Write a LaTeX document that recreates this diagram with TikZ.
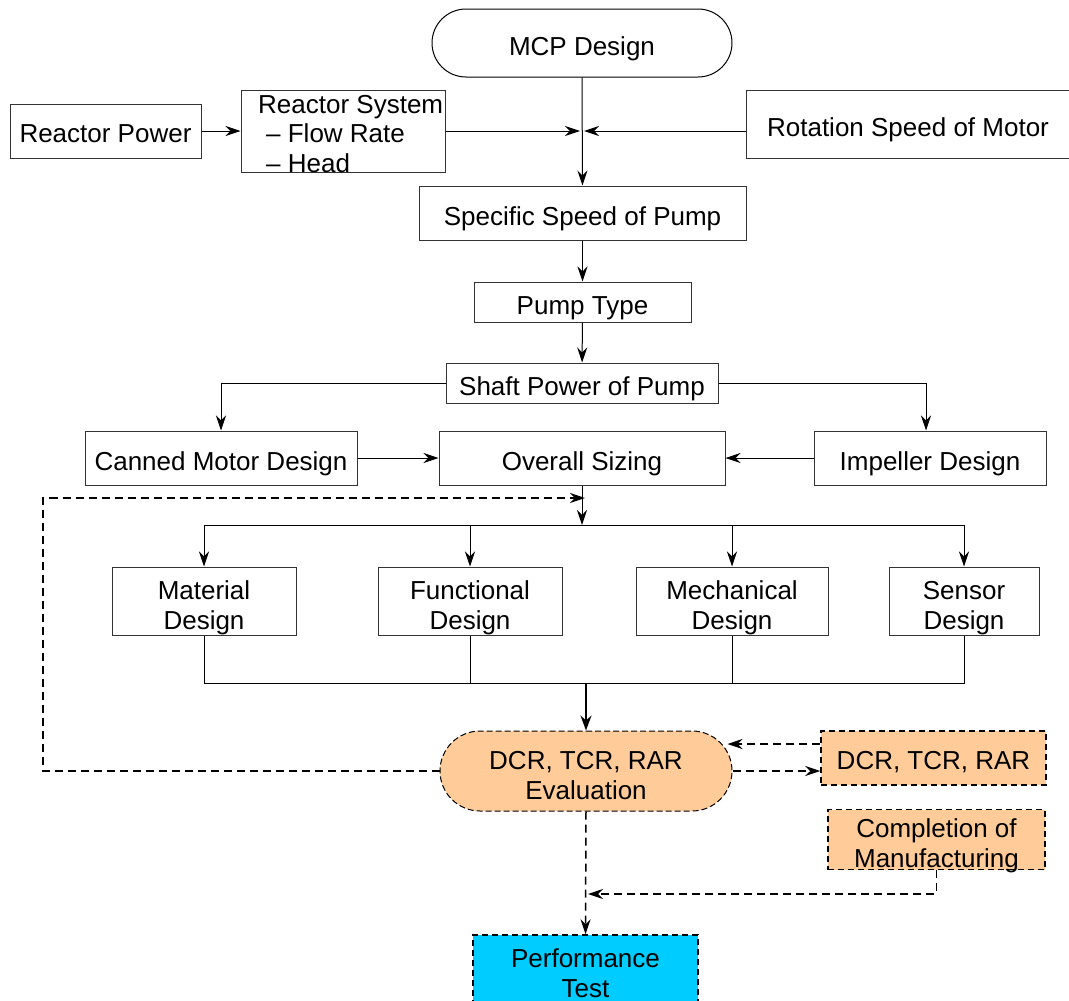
\documentclass[tikz,border=0pt]{standalone}
\usepackage{fontspec}
\setmainfont{Liberation Sans}
\usetikzlibrary{arrows.meta,shapes.misc}
\definecolor{peach}{RGB}{255,204,153}
\definecolor{cyanb}{RGB}{0,204,255}
\newcommand{\fs}{\fontsize{26}{30}\selectfont}
\newcommand{\T}[2][6pt]{\raisebox{-#1}[\height][\depth]{\begin{tabular}{@{}c@{}}#2\end{tabular}}}
\begin{document}
\begin{tikzpicture}[x=1pt,y=-1pt,
  every node/.style={font=\fs, inner sep=0pt, align=center},
  box/.style={draw=black!80, line width=1pt, rectangle},
  dbox/.style={draw=black, line width=1.5pt, dash pattern=on 6pt off 4pt, rectangle, fill=peach},
  stad/.style={draw=black, line width=1pt, rounded rectangle},
  arr/.style={line width=1pt, -{Stealth[length=15pt,width=10pt,inset=5pt]}},
  darr/.style={line width=1.5pt, dash pattern=on 8pt off 5pt, -{Stealth[length=15pt,width=10pt,inset=5pt]}},
  ln/.style={line width=1pt}]
\clip (0,0) rectangle (1069,1001);
\fill[white] (0,0) rectangle (1069,1001);
% nodes
\node[stad, minimum width=300pt, minimum height=68pt] (mcp) at (582,43) {\T{MCP Design}};
\node[box, minimum width=191pt, minimum height=54pt] (rp) at (105.5,131) {\T[5pt]{Reactor Power}};
\node[box, minimum width=204pt, minimum height=82pt] (rs) at (343,131) {};
\node[align=left, anchor=west] (rst) at (258,134) {Reactor System\\[-0.5pt]\hspace{8pt}– Flow Rate\\\hspace{8pt}– Head};
\node[box, minimum width=330pt, minimum height=68pt] (rot) at (911,124) {\T{\hspace*{-1pt}Rotation Speed of Motor\hspace*{5pt}}};
\coordinate (j1) at (582,131);
\node[box, minimum width=327pt, minimum height=54pt] (ss) at (582.5,213) {\T{Specific Speed of Pump}};
\node[box, minimum width=217pt, minimum height=40pt] (pt) at (582.5,302) {\T{Pump Type}};
\node[box, minimum width=272pt, minimum height=40pt] (sp) at (582,383) {\T{Shaft Power of Pump}};
\node[box, minimum width=272pt, minimum height=54pt] (cm) at (221,458) {\T{Canned Motor Design}};
\node[box, minimum width=286pt, minimum height=54pt] (os) at (582,458) {\T{Overall Sizing}};
\node[box, minimum width=232pt, minimum height=54pt] (imp) at (930,458) {\T{Impeller Design}};
\coordinate (b1) at (582,525);
\coordinate (fb) at (582,498);
\coordinate (fbl) at (43,498);
\node[box, minimum width=184pt, minimum height=68pt] (mat) at (204,601) {\T[7pt]{Material\\Design}};
\node[box, minimum width=184pt, minimum height=68pt] (fun) at (470,601) {\T[7pt]{Functional\\Design}};
\node[box, minimum width=192pt, minimum height=68pt] (mec) at (732,601) {\T[7pt]{Mechanical\\Design}};
\node[box, minimum width=150pt, minimum height=68pt] (sen) at (964,601) {\T[7pt]{Sensor\\Design}};
\coordinate (b2) at (586,683);
\node[stad, dash pattern=on 6pt off 3pt, fill=peach, minimum width=292pt, minimum height=80pt] (ev) at (586,771) {\T[7pt]{DCR, TCR, RAR\\Evaluation}};
\node[dbox, minimum width=225pt, minimum height=54pt] (dcr) at (933.5,758) {\T[5pt]{DCR, TCR, RAR}};
\node[dbox, minimum width=217pt, minimum height=53pt] (comp) at (936.5,839.5) {\T[6.5pt]{Completion of\\Manufacturing}};
\coordinate (cj) at (588,894);
\node[dbox, fill=cyanb, minimum width=225pt, minimum height=75pt] (perf) at (585.5,972.5) {\T[3.5pt]{Performance\\Test}};
% connectors
\draw[arr] (rp) -- (rs);
\draw[arr] (rs.east |- j1) -- ([xshift=-2pt]j1);
\draw[arr] (rot.west |- j1) -- ([xshift=2pt]j1);
\draw[arr] (mcp.south) -- (ss.north);
\draw[arr] (ss) -- (pt);
\draw[arr] (pt) -- (sp);
\draw[arr] (sp.west) -| (cm.north);
\draw[arr] (sp.east) -| ([xshift=-4pt]imp.north);
\draw[arr] (cm) -- (os);
\draw[arr] (imp) -- (os);
\draw[arr] (os.south) -- (b1);
\draw[ln] (mat.north |- b1) -- (sen.north |- b1);
\draw[arr] (mat.north |- b1) -- (mat.north);
\draw[arr] (fun.north |- b1) -- (fun.north);
\draw[arr] (mec.north |- b1) -- (mec.north);
\draw[arr] (sen.north |- b1) -- (sen.north);
\draw[ln] (mat.south) -- (mat.south |- b2) -- (sen.south |- b2) -- (sen.south);
\draw[ln] (fun.south) -- (fun.south |- b2);
\draw[ln] (mec.south) -- (mec.south |- b2);
\draw[line width=2pt, -{Stealth[length=15pt,width=11pt,inset=5pt]}] (b2) -- (ev.north);
\draw[darr] (ev.west) -| (fbl) -- ([xshift=3pt]fb);
\draw[darr] ([yshift=14pt]dcr.west) -- ([xshift=-5pt,yshift=27pt]ev.east);
\draw[darr] (ev.east) -- (ev.east -| dcr.west);
\draw[darr] (comp.south) |- (cj);
\draw[darr] (ev.south) -- (perf.north);
\end{tikzpicture}
\end{document}
